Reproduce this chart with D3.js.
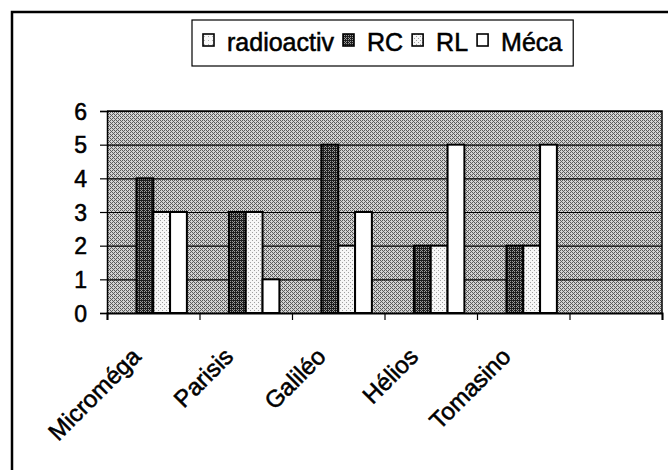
<!DOCTYPE html>
<html>
<head>
<meta charset="utf-8">
<script src="https://cdn.jsdelivr.net/npm/d3@7"></script>
<style>
  body { margin: 0; background: #fff; }
  svg { display: block; }
  text { font-family: "Liberation Sans", Arial, Helvetica, sans-serif; fill: #000; stroke: #000; stroke-width: 0.55px; }
</style>
</head>
<body>
<svg id="chart" width="668" height="470"></svg>
<script>
// Categories (the last slot is an empty category, as in the workbook)
const categories = ["Microméga", "Parisis", "Galiléo", "Hélios", "Tomasino", ""];
const seriesNames = ["radioactiv", "RC", "RL", "Méca"];
const radioactiv = [0, 0, 0, 0, 0, null];
const rc         = [4, 3, 5, 2, 2, null];
const rl         = [3, 3, 2, 2, 2, null];
const meca       = [3, 1, 3, 5, 5, null];
const yTicks     = [0, 1, 2, 3, 4, 5, 6];

const seriesValues = [radioactiv, rc, rl, meca];

const svg = d3.select("#chart");
const defs = svg.append("defs");

// Ordered-dither pixel patterns that imitate the printed fills
const bayer = [[0, 8, 2, 10], [12, 4, 14, 6], [3, 11, 1, 9], [15, 7, 13, 5]];
function ditherPattern(id, level, dark, light) {
  const p = defs.append("pattern")
    .attr("id", id).attr("patternUnits", "userSpaceOnUse")
    .attr("width", 4).attr("height", 4);
  p.append("rect").attr("width", 4).attr("height", 4).attr("fill", light);
  for (let r = 0; r < 4; r++) {
    for (let c = 0; c < 4; c++) {
      if (bayer[r][c] < level) {
        p.append("rect").attr("x", c).attr("y", r).attr("width", 1).attr("height", 1).attr("fill", dark);
      }
    }
  }
}
ditherPattern("fill-plot", 6, "#5a5a5a", "#d2d2d2");
ditherPattern("fill-rc", 11, "#1e1e1e", "#9a9a9a");
ditherPattern("fill-rl", 2, "#a0a0a0", "#f6f6f6");
ditherPattern("fill-radio", 1, "#b0b0b0", "#f8f8f8");

const seriesFill = ["url(#fill-radio)", "url(#fill-rc)", "url(#fill-rl)", "#ffffff"];

// Chart frame
svg.append("rect")
  .attr("x", 12).attr("y", 12).attr("width", 720).attr("height", 520)
  .attr("fill", "none").attr("stroke", "#000").attr("stroke-width", 2.5);

// Plot geometry
const plot = { left: 107, right: 662, top: 111, bottom: 313 };

const x = d3.scaleBand()
  .domain(d3.range(categories.length))
  .range([plot.left, plot.right])
  .paddingInner(0).paddingOuter(0);

const xInner = d3.scaleBand()
  .domain(d3.range(seriesNames.length))
  .range([0, x.bandwidth()])
  .paddingInner(0).paddingOuter(0.75);

const y = d3.scaleLinear().domain([0, 6]).range([plot.bottom, plot.top]);

// Plot area background
svg.append("rect")
  .attr("x", plot.left).attr("y", plot.top)
  .attr("width", plot.right - plot.left).attr("height", plot.bottom - plot.top)
  .attr("fill", "url(#fill-plot)");

// Horizontal gridlines
svg.append("g")
  .attr("transform", `translate(${plot.left},0)`)
  .call(d3.axisLeft(y).tickValues(yTicks).tickSize(-(plot.right - plot.left)).tickFormat(""))
  .call(g => g.select(".domain").remove())
  .call(g => g.selectAll("line").attr("stroke", "#000").attr("stroke-width", 1.2));

// Bars
const bars = [];
categories.forEach((c, i) => {
  seriesValues.forEach((vals, s) => {
    if (vals[i] !== null) bars.push({ cat: i, s, v: vals[i] });
  });
});
svg.append("g").selectAll("rect")
  .data(bars.filter(d => d.v > 0))
  .join("rect")
  .attr("x", d => x(d.cat) + xInner(d.s))
  .attr("y", d => y(d.v))
  .attr("width", xInner.bandwidth())
  .attr("height", d => y(0) - y(d.v))
  .attr("fill", d => seriesFill[d.s])
  .attr("stroke", "#000").attr("stroke-width", 2);

// Plot border (top and right)
svg.append("path")
  .attr("d", `M${plot.left},${plot.top}H${plot.right}V${plot.bottom}`)
  .attr("fill", "none").attr("stroke", "#000").attr("stroke-width", 1.5);

// Y axis
svg.append("g")
  .attr("transform", `translate(${plot.left},0)`)
  .call(d3.axisLeft(y).tickValues(yTicks).tickSize(7).tickPadding(13).tickFormat(d3.format("d")))
  .call(g => g.select(".domain").attr("stroke", "#000").attr("stroke-width", 1.5))
  .call(g => g.selectAll("line").attr("stroke", "#000").attr("stroke-width", 1.2))
  .call(g => g.selectAll("text").attr("font-size", 23).attr("font-family", null).attr("dy", "0.36em"));

// X axis: tick marks at category boundaries
const xEdge = d3.scaleLinear().domain([0, categories.length]).range([plot.left, plot.right]);
svg.append("g")
  .attr("transform", `translate(0,${plot.bottom})`)
  .call(d3.axisBottom(xEdge).tickValues(d3.range(categories.length + 1)).tickSize(7).tickFormat(""))
  .call(g => g.select(".domain").attr("stroke", "#000").attr("stroke-width", 2))
  .call(g => g.selectAll("line").attr("stroke", "#000").attr("stroke-width", 1.2));

// X axis: rotated category labels
svg.append("g")
  .attr("transform", `translate(0,${plot.bottom})`)
  .call(d3.axisBottom(x).tickSize(0).tickFormat(i => categories[i]))
  .call(g => g.select(".domain").remove())
  .call(g => g.selectAll("text")
    .attr("font-size", 24).attr("font-family", null)
    .attr("text-anchor", "end")
    .attr("x", 0).attr("y", 0).attr("dy", 0)
    .attr("transform", "translate(-11,45) rotate(-45)"));

// Legend
const legend = svg.append("g");
const legendFont = 25;
const legendY = 46;
let cx = 203;
seriesNames.forEach((name, s) => {
  const g = legend.append("g");
  g.append("rect")
    .attr("x", cx).attr("y", legendY - 12).attr("width", 11).attr("height", 12)
    .attr("fill", seriesFill[s]).attr("stroke", "#000").attr("stroke-width", 1.6);
  const t = g.append("text")
    .attr("x", cx + 24).attr("y", legendY + 5)
    .attr("font-size", legendFont)
    .text(name);
  const w = t.node().getComputedTextLength();
  cx = cx + 24 + w + 9;
});
legend.insert("rect", ":first-child")
  .attr("x", 192).attr("y", 20).attr("width", cx - 192 + 2).attr("height", 46)
  .attr("fill", "#fff").attr("stroke", "#000").attr("stroke-width", 1.2);
</script>
</body>
</html>
